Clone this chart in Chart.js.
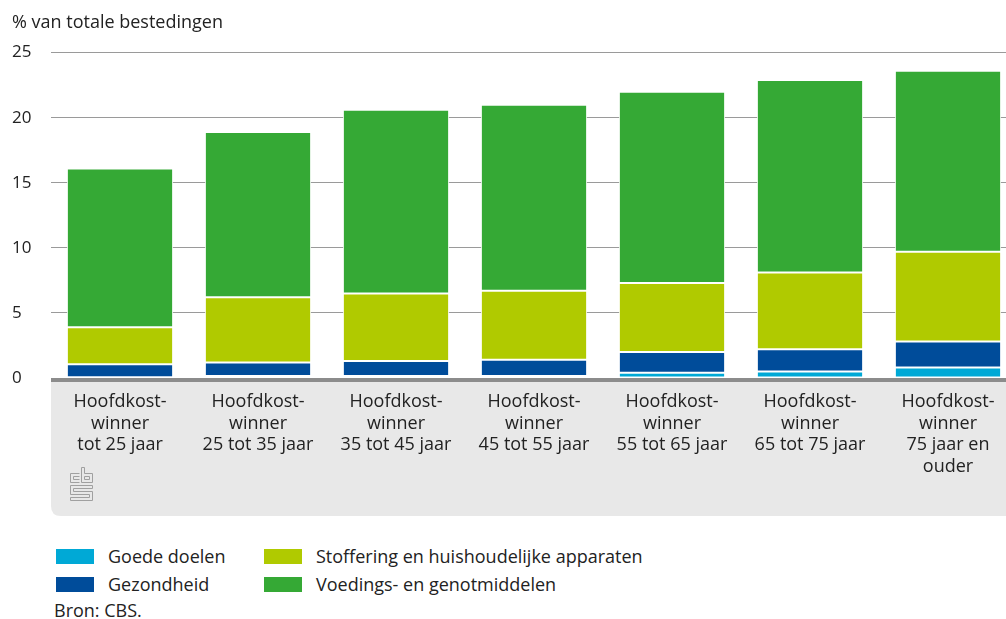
<!DOCTYPE html>
<html>
<head>
<meta charset="utf-8">
<script src="https://cdn.jsdelivr.net/npm/chart.js@4"></script>
<style>
  body { margin: 0; width: 1006px; height: 619px; overflow: hidden; background: #fff; position: relative; font-family: "Open Sans", sans-serif; color: #222; }
  #c { position: absolute; left: 0; top: 0; }
  .sw { position: absolute; width: 38px; height: 15px; }
  .lt { position: absolute; font-size: 18px; line-height: 20px; white-space: nowrap; }
</style>
</head>
<body>
<canvas id="c" width="1017" height="519"></canvas>
<div class="sw" style="left:56px;top:549px;background:#00a9d6"></div>
<div class="lt" style="left:108px;top:546px">Goede doelen</div>
<div class="sw" style="left:56px;top:577px;background:#004c9a"></div>
<div class="lt" style="left:108px;top:574px">Gezondheid</div>
<div class="sw" style="left:264px;top:549px;background:#b0ca00"></div>
<div class="lt" style="left:316px;top:546px">Stoffering en huishoudelijke apparaten</div>
<div class="sw" style="left:264px;top:577px;background:#35a935"></div>
<div class="lt" style="left:316px;top:574px">Voedings- en genotmiddelen</div>
<div class="lt" style="left:54px;top:600px">Bron: CBS.</div>
<script>
var categorieen = [
    ["Hoofdkost-", "winner", "tot 25 jaar"],
    ["Hoofdkost-", "winner", "25 tot 35 jaar"],
    ["Hoofdkost-", "winner", "35 tot 45 jaar"],
    ["Hoofdkost-", "winner", "45 tot 55 jaar"],
    ["Hoofdkost-", "winner", "55 tot 65 jaar"],
    ["Hoofdkost-", "winner", "65 tot 75 jaar"],
    ["Hoofdkost-", "winner", "75 jaar en", "ouder"]
];
var goedeDoelen = [0.05, 0.15, 0.15, 0.15, 0.4, 0.5, 0.8];
var gezondheid = [1.0, 1.05, 1.15, 1.25, 1.6, 1.7, 2.0];
var stoffering = [2.85, 5.0, 5.2, 5.3, 5.3, 5.9, 6.9];
var voedings = [12.2, 12.7, 14.1, 14.3, 14.7, 14.8, 13.9];
var yTicks = [0, 5, 10, 15, 20, 25];

// grijs vlak onder de x-as, as-lijn en logo
var achtergrond = {
    id: 'achtergrond',
    beforeDraw: function (chart) {
        var ctx = chart.ctx, a = chart.chartArea;
        var x0 = a.left, y0 = a.bottom, x1 = chart.width, y1 = 516, r = 10;
        ctx.save();
        ctx.fillStyle = '#e8e8e8';
        ctx.beginPath();
        ctx.moveTo(x0, y0);
        ctx.lineTo(x1, y0);
        ctx.lineTo(x1, y1);
        ctx.lineTo(x0 + r, y1);
        ctx.quadraticCurveTo(x0, y1, x0, y1 - r);
        ctx.closePath();
        ctx.fill();
        ctx.restore();
    },
    beforeDatasetsDraw: function (chart) {
        var ctx = chart.ctx, a = chart.chartArea;
        ctx.save();
        ctx.fillStyle = '#8c8c8c';
        ctx.fillRect(a.left, a.bottom, chart.width - a.left, 4);
        ctx.restore();
    },
    afterDraw: function (chart) {
        var ctx = chart.ctx;
        ctx.save();
        ctx.strokeStyle = '#a0a0a0';
        ctx.lineWidth = 1;
        ctx.translate(70.5, 467.5);
        ctx.beginPath();
        // c
        ctx.moveTo(9, 6); ctx.lineTo(0, 6); ctx.lineTo(0, 15); ctx.lineTo(9, 15);
        ctx.moveTo(9, 9); ctx.lineTo(3, 9); ctx.lineTo(3, 12); ctx.lineTo(9, 12);
        // b
        ctx.moveTo(11, 0); ctx.lineTo(11, 15); ctx.lineTo(22, 15); ctx.lineTo(22, 6); ctx.lineTo(14, 6); ctx.lineTo(14, 0); ctx.closePath();
        ctx.rect(14, 9, 5, 3);
        // s
        ctx.moveTo(22, 18); ctx.lineTo(0, 18); ctx.lineTo(0, 27); ctx.lineTo(19, 27); ctx.lineTo(19, 30); ctx.lineTo(0, 30); ctx.lineTo(0, 33); ctx.lineTo(22, 33); ctx.lineTo(22, 24); ctx.lineTo(3, 24); ctx.lineTo(3, 21); ctx.lineTo(22, 21); ctx.closePath();
        ctx.stroke();
        ctx.restore();
    }
};

function serie(label, data, kleur) {
    return {
        label: label,
        data: data,
        backgroundColor: kleur,
        borderColor: '#ffffff',
        borderWidth: 1,
        borderSkipped: false,
        barPercentage: 0.77,
        categoryPercentage: 1
    };
}

var ctx = document.getElementById('c').getContext('2d');
var grafiek = new Chart(ctx, {
    type: 'bar',
    data: {
        labels: categorieen,
        datasets: [
            serie('Goede doelen', goedeDoelen, '#00a9d6'),
            serie('Gezondheid', gezondheid, '#004c9a'),
            serie('Stoffering en huishoudelijke apparaten', stoffering, '#b0ca00'),
            serie('Voedings- en genotmiddelen', voedings, '#35a935')
        ]
    },
    options: {
        responsive: false,
        animation: false,
        devicePixelRatio: 1,
        layout: { padding: { left: 12, top: 12, right: 0, bottom: 0 } },
        plugins: {
            legend: { display: false },
            tooltip: { enabled: false },
            title: {
                display: true,
                text: '% van totale bestedingen',
                align: 'start',
                color: '#222',
                font: { family: 'Open Sans', size: 18, weight: 'normal', lineHeight: 1.2 },
                padding: { top: 0, bottom: 19 }
            }
        },
        scales: {
            x: {
                stacked: true,
                grid: { display: false, drawTicks: false },
                border: { display: false },
                ticks: {
                    color: '#222',
                    font: { family: 'Open Sans', size: 18, lineHeight: 1.2 },
                    padding: 13,
                    maxRotation: 0,
                    autoSkip: false
                },
                afterFit: function (s) { s.height = 141; }
            },
            y: {
                stacked: true,
                min: 0,
                max: 25,
                afterBuildTicks: function (s) {
                    s.ticks = yTicks.map(function (v) { return { value: v }; });
                },
                grid: {
                    drawTicks: false,
                    color: function (c) { return c.tick && c.tick.value === 0 ? 'rgba(0,0,0,0)' : '#9a9a9a'; },
                    lineWidth: 1
                },
                border: { display: false },
                ticks: {
                    color: '#222',
                    crossAlign: 'far',
                    padding: 0,
                    font: { family: 'Open Sans', size: 17 }
                },
                afterFit: function (s) { s.width = 39; }
            }
        }
    },
    plugins: [achtergrond]
});
</script>
</body>
</html>
